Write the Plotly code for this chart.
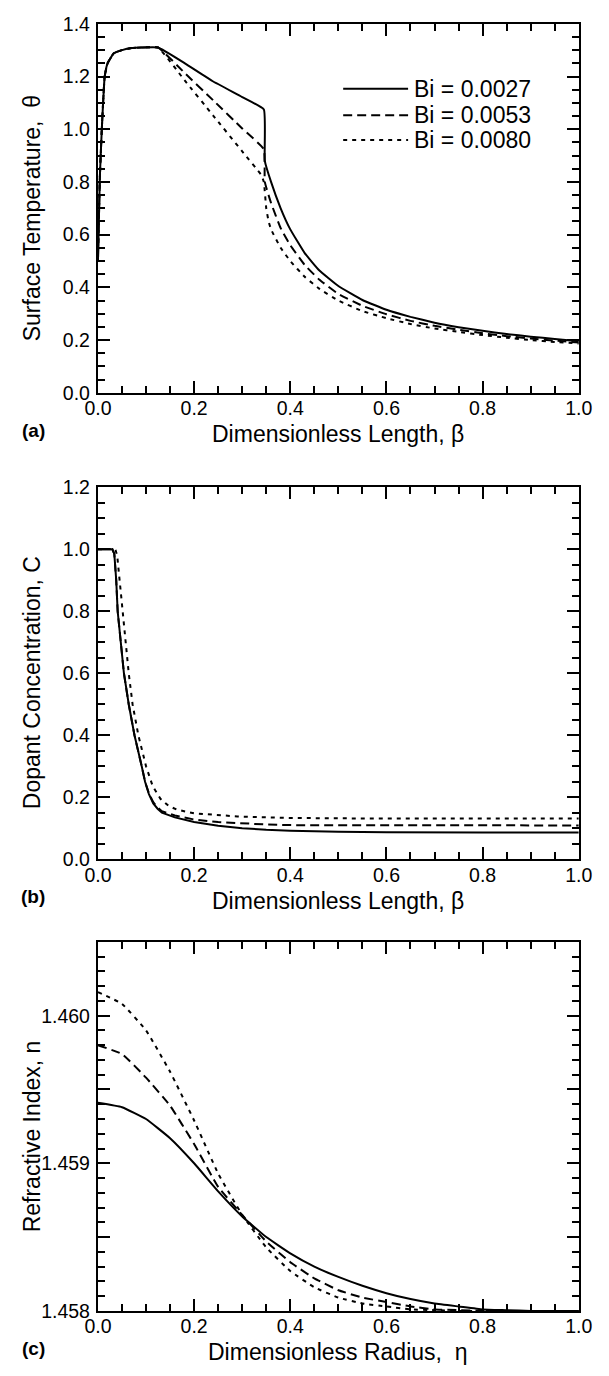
import plotly.graph_objects as go

# ---------------------------------------------------------------------------
# Series data
# ---------------------------------------------------------------------------
bi_labels = ["Bi = 0.0027", "Bi = 0.0053", "Bi = 0.0080"]

# (a) surface temperature theta vs dimensionless length beta
beta_a_0027 = [0, 0.004, 0.008, 0.014, 0.02, 0.033, 0.05, 0.07, 0.09, 0.125,
               0.18, 0.238, 0.30, 0.345, 0.347, 0.36, 0.38, 0.40, 0.43, 0.46,
               0.50, 0.55, 0.60, 0.65, 0.70, 0.75, 0.80, 0.85, 0.90, 0.95, 1.0]
theta_0027 = [0.5, 0.82, 1.0, 1.2, 1.25, 1.288, 1.30, 1.308, 1.31, 1.31,
              1.251, 1.183, 1.122, 1.075, 0.88, 0.80, 0.70, 0.62, 0.53, 0.465,
              0.405, 0.352, 0.315, 0.288, 0.266, 0.249, 0.235, 0.223, 0.213, 0.204, 0.196]

beta_a_0053 = [0, 0.004, 0.008, 0.014, 0.02, 0.033, 0.05, 0.07, 0.09, 0.125,
               0.18, 0.24, 0.30, 0.345, 0.347, 0.36, 0.38, 0.40, 0.43, 0.46,
               0.50, 0.55, 0.60, 0.65, 0.70, 0.75, 0.80, 0.85, 0.90, 0.95, 1.0]
theta_0053 = [0.5, 0.82, 1.0, 1.2, 1.25, 1.288, 1.30, 1.308, 1.31, 1.31,
              1.214, 1.109, 1.003, 0.924, 0.80, 0.72, 0.625, 0.56, 0.485, 0.43,
              0.375, 0.33, 0.298, 0.273, 0.254, 0.239, 0.226, 0.215, 0.206, 0.198, 0.191]

beta_a_0080 = [0, 0.004, 0.008, 0.014, 0.02, 0.033, 0.05, 0.07, 0.09, 0.125,
               0.18, 0.24, 0.30, 0.34, 0.345, 0.35, 0.355, 0.36, 0.38, 0.40,
               0.43, 0.46, 0.50, 0.55, 0.60, 0.65, 0.70, 0.75, 0.80, 0.85, 0.90, 0.95, 1.0]
theta_0080 = [0.5, 0.82, 1.0, 1.2, 1.25, 1.288, 1.30, 1.308, 1.31, 1.31,
              1.186, 1.051, 0.916, 0.825, 0.80, 0.70, 0.65, 0.62, 0.55, 0.50,
              0.44, 0.395, 0.35, 0.31, 0.283, 0.261, 0.244, 0.231, 0.219, 0.209, 0.20, 0.193, 0.187]

# (b) dopant concentration C vs dimensionless length beta
beta_b_0027 = [0, 0.03, 0.034, 0.038, 0.041, 0.047, 0.054, 0.064, 0.076, 0.091,
               0.098, 0.106, 0.115, 0.124, 0.133, 0.16, 0.2, 0.25, 0.3, 0.35,
               0.4, 0.5, 0.6, 0.8, 1.0]
conc_0027 = [1.0, 1.0, 0.985, 0.9, 0.8, 0.7, 0.6, 0.5, 0.4, 0.3,
             0.25, 0.21, 0.18, 0.163, 0.15, 0.135, 0.12, 0.108, 0.1, 0.095,
             0.092, 0.089, 0.087, 0.086, 0.086]

beta_b_0053 = [0, 0.03, 0.034, 0.038, 0.041, 0.047, 0.054, 0.064, 0.076, 0.091,
               0.098, 0.106, 0.115, 0.124, 0.133, 0.16, 0.2, 0.25, 0.3, 0.35,
               0.4, 0.6, 1.0]
conc_0053 = [1.0, 1.0, 0.985, 0.9, 0.8, 0.7, 0.6, 0.5, 0.4, 0.3,
             0.25, 0.212, 0.184, 0.167, 0.155, 0.141, 0.128, 0.12, 0.115, 0.112,
             0.11, 0.109, 0.109]

beta_b_0080 = [0, 0.036, 0.04, 0.046, 0.052, 0.058, 0.064, 0.072, 0.084, 0.1,
               0.114, 0.13, 0.147, 0.164, 0.2, 0.29, 0.4, 0.6, 1.0]
conc_0080 = [1.0, 1.0, 0.98, 0.88, 0.78, 0.68, 0.6, 0.5, 0.4, 0.3,
             0.235, 0.195, 0.172, 0.16, 0.148, 0.138, 0.133, 0.131, 0.131]

# (c) refractive index n vs dimensionless radius eta
eta_c = [0, 0.05, 0.1, 0.15, 0.2, 0.25, 0.3, 0.35, 0.4, 0.45, 0.5,
         0.55, 0.6, 0.65, 0.7, 0.75, 0.8, 0.85, 0.9, 1.0]
n_0027 = [1.45941, 1.45938, 1.45930, 1.45917, 1.45900, 1.45881, 1.45864, 1.45850,
          1.45839, 1.45830, 1.45823, 1.45817, 1.45812, 1.45808, 1.45805, 1.45803,
          1.45801, 1.458005, 1.45800, 1.45800]
n_0053 = [1.45980, 1.45974, 1.45958, 1.45939, 1.45913, 1.45884, 1.45865, 1.45847,
          1.45833, 1.45822, 1.45814, 1.45809, 1.45806, 1.45803, 1.45801, 1.458005,
          1.45800, 1.45800, 1.45800, 1.45800]
n_0080 = [1.46016, 1.46008, 1.45990, 1.45962, 1.45929, 1.45893, 1.45865, 1.45843,
          1.45827, 1.45816, 1.45809, 1.45805, 1.45803, 1.45801, 1.458005, 1.45800,
          1.45800, 1.45800, 1.45800, 1.45800]

# Tick positions and labels
x_tickvals = [0.0, 0.2, 0.4, 0.6, 0.8, 1.0]
x_ticktext = ["0.0", "0.2", "0.4", "0.6", "0.8", "1.0"]
ya_tickvals = [0.0, 0.2, 0.4, 0.6, 0.8, 1.0, 1.2, 1.4]
ya_ticktext = ["0.0", "0.2", "0.4", "0.6", "0.8", "1.0", "1.2", "1.4"]
yb_tickvals = [0.0, 0.2, 0.4, 0.6, 0.8, 1.0, 1.2]
yb_ticktext = ["0.0", "0.2", "0.4", "0.6", "0.8", "1.0", "1.2"]
yc_tickvals = [1.458, 1.4585, 1.459, 1.4595, 1.460]
yc_ticktext = ["1.458", "", "1.459", "", "1.460"]

# ---------------------------------------------------------------------------
# Page geometry (pixels)
# ---------------------------------------------------------------------------
W, H = 609, 1376
PLOT_LEFT, PLOT_RIGHT = 88, 592
PANELS = [(13, 388), (484, 862), (946, 1321)]   # (top, bottom) of each plot box
Y_RANGES = [[0, 1.4], [0, 1.2], [1.458, 1.4605]]
Y_MINOR = [0.05, 0.05, 0.0001]
X_MINOR = 0.05

FONT = "Liberation Sans, Arial, Helvetica, sans-serif"
TICK_SIZE = 19.5
TITLE_SIZE = 23
LEGEND_SIZE = 23
LETTER_SIZE = 19

LINE_WIDTH = 2
DASHES = ["solid", "9px,5px", "4px,5px"]
SHAPES = ["spline", "linear", "spline"]


def px_x(p):
    return p / W


def px_y(p):
    return 1 - p / H


def major_axis(rng, tickvals, ticktext, domain, anchor, standoff, minor_dtick):
    return dict(
        range=rng, tickmode="array", tickvals=tickvals, ticktext=ticktext,
        ticks="inside", ticklen=12, tickwidth=1.6, tickcolor="black",
        showline=True, linecolor="black", linewidth=2.2, mirror="ticks",
        showgrid=False, zeroline=False, domain=domain, anchor=anchor,
        ticklabelstandoff=standoff,
        tickfont=dict(family=FONT, size=TICK_SIZE, color="black"),
        minor=dict(tickmode="linear", tick0=rng[0], dtick=minor_dtick,
                   ticks="inside", ticklen=7, tickwidth=1.5, tickcolor="black",
                   showgrid=False),
    )


def minor_axis(rng, dtick, overlay, anchor):
    return dict(
        range=rng, tickmode="linear", tick0=rng[0], dtick=dtick,
        overlaying=overlay, anchor=anchor,
        ticks="inside", ticklen=7, tickwidth=1.5, tickcolor="black",
        mirror="ticks", showline=False, showticklabels=False,
        showgrid=False, zeroline=False,
    )


def axis_id(k):
    return "" if k == 1 else str(k)


fig = go.Figure()

panel_series = [
    [(beta_a_0027, theta_0027), (beta_a_0053, theta_0053), (beta_a_0080, theta_0080)],
    [(beta_b_0027, conc_0027), (beta_b_0053, conc_0053), (beta_b_0080, conc_0080)],
    [(eta_c, n_0027), (eta_c, n_0053), (eta_c, n_0080)],
]
y_ticks = [(ya_tickvals, ya_ticktext), (yb_tickvals, yb_ticktext), (yc_tickvals, yc_ticktext)]

layout = dict(
    width=W, height=H, margin=dict(l=0, r=0, t=0, b=0),
    paper_bgcolor="white", plot_bgcolor="white", showlegend=False,
    font=dict(family=FONT, color="black"),
)

for i, series in enumerate(panel_series):
    top, bottom = PANELS[i]
    n = axis_id(i + 1)
    m = axis_id(i + 4)       # overlay axes that repeat the minor ticks
    xa, ya = "x" + n, "y" + n
    xm, ym = "x" + m, "y" + m

    for (xs, ys), dash, name in zip(series, DASHES, bi_labels):
        fig.add_trace(go.Scatter(
            x=xs, y=ys, mode="lines", name=name, xaxis=xa, yaxis=ya,
            line=dict(color="black", width=LINE_WIDTH, dash=dash,
                      shape=SHAPES[i], smoothing=0.35),
            showlegend=False,
        ))
    fig.add_trace(go.Scatter(x=[0.5], y=[Y_RANGES[i][0] - 1], xaxis=xm, yaxis=ym,
                             mode="markers", marker=dict(opacity=0),
                             showlegend=False, hoverinfo="skip"))

    x_dom = [px_x(PLOT_LEFT), px_x(PLOT_RIGHT)]
    y_dom = [px_y(bottom), px_y(top)]
    layout["xaxis" + n] = major_axis([0, 1], x_tickvals, x_ticktext, x_dom, ya, -3, X_MINOR)
    layout["yaxis" + n] = major_axis(Y_RANGES[i], y_ticks[i][0], y_ticks[i][1], y_dom, xa, 2,
                                     Y_MINOR[i])
    layout["xaxis" + m] = minor_axis([0, 1], X_MINOR, xa, ym)
    layout["yaxis" + m] = minor_axis(Y_RANGES[i], Y_MINOR[i], ya, xm)

fig.update_layout(**layout)

# Axis titles and panel letters
y_titles = ["Surface Temperature,  θ", "Dopant Concentration, C", "Refractive Index, n"]
x_titles = ["Dimensionless Length, β", "Dimensionless Length, β", "Dimensionless Radius,  η"]
letters = ["(a)", "(b)", "(c)"]

plot_cx = (PLOT_LEFT + PLOT_RIGHT) / 2
for (top, bottom), yt, xt, letter in zip(PANELS, y_titles, x_titles, letters):
    fig.add_annotation(text=yt, x=px_x(19), y=px_y((top + bottom) / 2 + 10),
                       xref="paper", yref="paper", xanchor="center", yanchor="middle",
                       showarrow=False, textangle=-90,
                       font=dict(family=FONT, size=TITLE_SIZE, color="black"))
    fig.add_annotation(text=xt, x=px_x(plot_cx), y=px_y(bottom + 42),
                       xref="paper", yref="paper", xanchor="center", yanchor="middle",
                       showarrow=False,
                       font=dict(family=FONT, size=TITLE_SIZE, color="black"))
    fig.add_annotation(text="<b>" + letter + "</b>", x=px_x(20), y=px_y(bottom + 38),
                       xref="paper", yref="paper", xanchor="center", yanchor="middle",
                       showarrow=False,
                       font=dict(family=FONT, size=LETTER_SIZE, color="black"))

# Legend for panel (a): line sample followed by its label
legend_rows = [0.824, 0.752, 0.685]
for label, dash, yrow in zip(bi_labels, DASHES, legend_rows):
    fig.add_shape(type="line", xref="x domain", yref="y domain",
                  x0=0.51, x1=0.645, y0=yrow, y1=yrow,
                  line=dict(color="black", width=LINE_WIDTH, dash=dash))
    fig.add_annotation(text=label, xref="x domain", yref="y domain",
                       x=0.653, y=yrow, xanchor="left", yanchor="middle", showarrow=False,
                       font=dict(family=FONT, size=LEGEND_SIZE, color="black"))

fig.write_html("out.html")
